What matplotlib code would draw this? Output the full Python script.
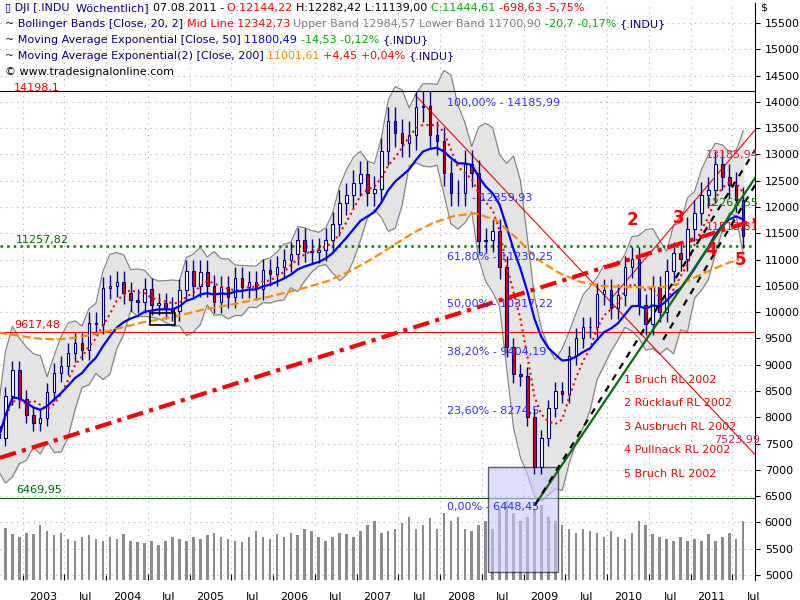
import numpy as np
import pandas as pd
import matplotlib
matplotlib.use('Agg')
import matplotlib.pyplot as plt
from matplotlib.patches import Rectangle

# monthly closes Sep 2002 .. Aug 2011
closes = [7600, 8400, 8900, 8350,
          8050, 7900, 7990, 8480, 8850, 8980, 9230, 9420, 9280, 9800, 9780, 10450,
          10490, 10580, 10360, 10230, 10190, 10440, 10140, 10170, 10080, 10030, 10430, 10780,
          10490, 10770, 10500, 10190, 10470, 10280, 10640, 10480, 10570, 10440, 10800, 10720,
          10860, 10990, 11110, 11370, 11170, 11150, 11190, 11380, 11680, 12080, 12220, 12460,
          12620, 12270, 12350, 13060, 13630, 13410, 13210, 13360, 13900, 13930, 13370, 13260,
          12650, 12270, 12260, 12820, 12640, 11350, 11380, 11540, 10850, 9330, 8830, 8780,
          8000, 7060, 7610, 8170, 8500, 8450, 9170, 9500, 9710, 9710, 10340, 10430,
          10070, 10330, 10860, 11010, 10140, 9770, 10470, 10010, 10790, 11120, 11010, 11580,
          11890, 12230, 12320, 12810, 12570, 12410, 12140, 11440]
volume = [0.62, 0.66, 0.58, 0.55,
          0.60, 0.58, 0.70, 0.62, 0.57, 0.60, 0.52, 0.50, 0.55, 0.57, 0.52, 0.50,
          0.55, 0.52, 0.58, 0.50, 0.48, 0.47, 0.50, 0.45, 0.50, 0.55, 0.52, 0.50,
          0.55, 0.52, 0.57, 0.60, 0.55, 0.52, 0.50, 0.48, 0.55, 0.62, 0.55, 0.52,
          0.58, 0.55, 0.60, 0.57, 0.65, 0.62, 0.55, 0.50, 0.55, 0.60, 0.58, 0.55,
          0.62, 0.70, 0.75, 0.60, 0.62, 0.65, 0.72, 0.80, 0.65, 0.70, 0.78, 0.65,
          0.85, 0.75, 0.80, 0.65, 0.62, 0.70, 0.75, 0.65, 0.90, 1.00, 0.85, 0.75,
          0.80, 0.90, 0.95, 0.80, 0.75, 0.70, 0.65, 0.60, 0.65, 0.62, 0.60, 0.55,
          0.62, 0.55, 0.52, 0.60, 0.75, 0.70, 0.58, 0.55, 0.52, 0.50, 0.55, 0.50,
          0.52, 0.50, 0.58, 0.50, 0.55, 0.60, 0.52, 0.75]
# EMA 200 (orange), read quarterly
ema200_t = [2002.67 + 0.25 * i for i in range(36)] + [2011.58]
ema200 = [9620, 9560, 9500, 9480, 9520, 9600, 9700, 9800, 9870, 9950, 10050, 10120,
          10200, 10280, 10380, 10480, 10600, 10780, 11000, 11250, 11500, 11700, 11830, 11880,
          11750, 11400, 11000, 10750, 10580, 10500, 10480, 10470, 10480, 10560, 10750, 10920, 11000]

fib_labels = ['100,00% - 14185,99', '61,80% - 11230,25', '50,00% - 10317,22',
              '38,20% - 9404,19', '23,60% - 8274,5', '0,00% - 6448,45']
notes = ['1 Bruch RL 2002', '2 Rücklauf RL 2002', '3 Ausbruch RL 2002',
         '4 Pullnack RL 2002', '5 Bruch RL 2002']

t = np.array([2002.67 + i / 12 for i in range(len(closes))]) + 1 / 24
c = pd.Series(closes, dtype=float)
o = c.shift(1).fillna(c.iloc[0] * 1.03)
ema50 = c.ewm(span=12).mean()
mid = c.rolling(5, min_periods=1).mean()
sd = c.rolling(5, min_periods=2).std().fillna(250) + 60
upper, lower = mid + 2 * sd, mid - 2 * sd

X0, X1 = 2002.73, 2011.77
Y0, Y1 = 4905, 15880
def px(x):
    return X0 + x / 83.5
def py(y):
    return 15500 - (y - 23) * 500 / 26.3

fig = plt.figure(figsize=(8, 6), dpi=100)
ax = fig.add_axes([0.0, 20 / 600, 755 / 800, 577 / 600])
ax.set_xlim(X0, X1)
ax.set_ylim(Y0, Y1)

# volume
ax.bar(t, np.array(volume) * 1500, bottom=Y0, width=0.03, color='#8c8c8c', zorder=1)

# bollinger band
ax.fill_between(t, lower, upper, color='#e4e4e4', zorder=1)
ax.plot(t, upper, color='#808080', lw=0.8, zorder=2)
ax.plot(t, lower, color='#808080', lw=0.8, zorder=2)

# bars
hi = np.maximum(o, c) * 1.02
lo = np.minimum(o, c) * 0.98
ax.vlines(t, lo, hi, color='#000080', lw=1, zorder=4)
for ti, oi, ci in zip(t, o, c):
    ax.add_patch(Rectangle((ti - 0.015, min(oi, ci)), 0.03, abs(ci - oi),
                           facecolor='white' if ci >= oi else '#e00000',
                           edgecolor='#000080', lw=0.8, zorder=5))

ax.plot(t, mid, color='red', ls=':', lw=1.5, zorder=6)
ax.plot(t, ema50, color='#0000ff', lw=1.6, zorder=6)
ax.plot(ema200_t, ema200, color='#ff8c00', ls='--', lw=1.6, zorder=6)

# horizontal levels
ax.axhline(14198.1, color='black', lw=0.8)
ax.axhline(11257.82, color='#008000', ls=':', lw=1.8)
ax.axhline(9617.48, color='red', lw=0.8)
ax.axhline(6469.95, color='#006400', lw=0.8)
ax.text(px(14), py(88), '14198,1', color='red', fontsize=8, va='center')
ax.text(px(16), py(240), '11257,82', color='#006400', fontsize=8, va='center')
ax.text(px(14), py(325), '9617,48', color='red', fontsize=8, va='center')
ax.text(px(16), py(490), '6469,95', color='#006400', fontsize=8, va='center')

# trend lines
ax.plot([px(0), px(755)], [py(458), py(220)], color='red', lw=3, ls=(0, (4, 1.5, 1, 1.5)), zorder=7)
ax.plot([px(415), px(755)], [py(95), py(455)], color='red', lw=0.8, zorder=3)
ax.plot([px(610), px(755)], [py(300), py(130)], color='red', lw=0.8, zorder=3)
ax.plot([px(535), px(755)], [py(505), py(178)], color='#007000', lw=1.6, zorder=7)
ax.plot([px(535), px(755)], [py(505), py(150)], color='black', lw=1.6, ls=(0, (3, 3)), zorder=7)
ax.plot([px(663), px(755)], [py(340), py(185)], color='black', lw=1.6, ls=(0, (3, 3)), zorder=7)

# fibonacci
fy = [103, 257, 304, 352, 411, 507]
for lab, yy in zip(fib_labels, fy):
    ax.text(px(447), py(yy), lab, color='#3030ff', fontsize=8, va='center', zorder=8)
ax.text(px(472), py(198), '- 12359,93', color='#3030ff', fontsize=8, va='center', zorder=8)

ax.text(px(706), py(155), '13185,94', color='#e0204a', fontsize=8, va='center', zorder=8)
ax.text(px(706), py(203), '12262,55', color='#008000', fontsize=8, va='center', zorder=8)
ax.text(px(706), py(227), '11513,81', color='red', fontsize=8, va='center', zorder=8)
ax.text(px(714), py(440), '7523,99', color='#e0204a', fontsize=8, va='center', zorder=8)

for s, (xx, yy) in zip(['2', '3', '4', '5'], [(632, 220), (679, 218), (711, 250), (740, 260)]):
    ax.text(px(xx), py(yy), s, color='red', fontsize=12, fontweight='bold',
            ha='center', va='center', zorder=8)
for i, s in enumerate(notes):
    ax.text(px(624), py(380 + i * 23.5), s, color='red', fontsize=8, va='center', zorder=8)

ax.add_patch(Rectangle((px(488), py(572)), 70 / 83.5, py(467) - py(572),
                       facecolor='#c8c8ff', alpha=0.6, edgecolor='black', lw=1, zorder=3))
ax.add_patch(Rectangle((px(150), py(325)), 25 / 83.5, py(313) - py(325),
                       facecolor='none', edgecolor='black', lw=1.2, zorder=8))

# axes styling
ax.yaxis.tick_right()
ax.set_yticks(np.arange(5000, 15501, 500))
ax.set_yticklabels([str(v) for v in range(5000, 15501, 500)], fontsize=8)
ax.set_xticks(np.arange(2003, 2011.6, 0.5))
ax.set_xticklabels([])
for yr in range(2003, 2012):
    ax.text(yr + 0.25, Y0 - 220, str(yr), ha='center', va='top', fontsize=8)
    ax.text(yr + 0.75, Y0 - 220, 'Jul', ha='center', va='top', fontsize=8)
ax.tick_params(axis='x', length=4, direction='in')
ax.grid(True, color='#b0b0b0', ls=(0, (1, 4)), lw=0.8)
ax.set_axisbelow(True)
for sp in ['top', 'left', 'bottom']:
    ax.spines[sp].set_visible(False)
fig.text(760 / 800, 1 - 8 / 600, '$', fontsize=8, va='center')

# header legend
rend = fig.canvas.get_renderer()
def line_of(y, parts):
    x = 5
    for s, col in parts:
        tx = fig.text(x / 800, 1 - y / 600, s, color=col, fontsize=8, va='center')
        x += tx.get_window_extent(rend).width
rows = [
    [('\u25AF DJI [.INDU  ', '#000080'), ('Wöchentlich] ', '#000080'), ('07.08.2011 - ', 'black'),
     ('O:12144,22 ', 'red'), ('H:12282,42 L:11139,00 ', 'black'), ('C:11444,61 ', '#00b000'),
     ('-698,63 -5,75%', 'red')],
    [('~ Bollinger Bands [Close, 20, 2] ', '#000080'), ('Mid Line 12342,73 ', 'red'),
     ('Upper Band 12984,57 Lower Band 11700,90 ', 'gray'), ('-20,7 -0,17% ', '#00b000'), ('{.INDU}', '#000080')],
    [('~ Moving Average Exponential [Close, 50] ', '#000080'), ('11800,49 ', 'blue'),
     ('-14,53 -0,12% ', '#00b000'), ('{.INDU}', '#000080')],
    [('~ Moving Average Exponential(2) [Close, 200] ', '#000080'), ('11001,61 ', '#ff8c00'),
     ('+4,45 +0,04% ', 'red'), ('{.INDU}', '#000080')],
    [('\u00a9 www.tradesignalonline.com', 'black')],
]
for i, r in enumerate(rows):
    line_of(8 + i * 16, r)

fig.savefig('out.png', dpi=100)
